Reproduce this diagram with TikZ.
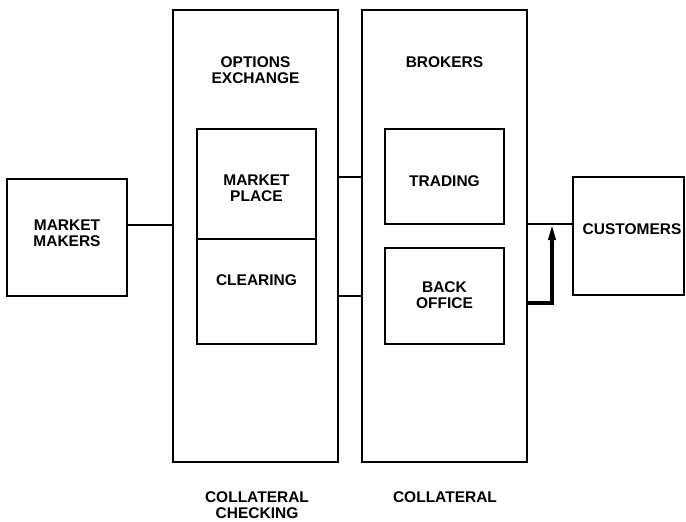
\documentclass[tikz,border=0pt]{standalone}
\usepackage{fontspec}
\setmainfont{Liberation Sans}
\usetikzlibrary{arrows.meta}
\begin{document}
\begin{tikzpicture}[x=1pt,y=1pt,
  box/.style={draw,line width=2pt,inner sep=0pt},
  lbl/.style={font=\bfseries\fontsize{15.5}{16}\selectfont,align=center,inner sep=0pt},
  conn/.style={line width=1.5pt},
  flow/.style={line width=3.5pt,-{Triangle[width=7pt,length=16pt]}}]
\useasboundingbox (0,0) rectangle (686,-522);
% outer boxes
\node[box,minimum width=120,minimum height=117] (mm) at (67,-237.5) {};
\node[box,minimum width=165,minimum height=452] (ox) at (255.5,-236) {};
\node[box,minimum width=165,minimum height=452] (br) at (444.5,-236) {};
\node[box,minimum width=111,minimum height=118] (cu) at (628.5,-236) {};
% inner boxes
\node[box,minimum width=119,minimum height=110] (mp) at (256.5,-184) {};
\node[box,minimum width=119,minimum height=105] (cl) at (256.5,-291.5) {};
\node[box,minimum width=119,minimum height=95] (tr) at (444.5,-176.5) {};
\node[box,minimum width=119,minimum height=96] (bo) at (444.5,-296) {};
% labels
\node[lbl] (tmm) at (67,-233) {MARKET\\MAKERS};
\node[lbl] (tox) at (255.5,-70) {OPTIONS\\EXCHANGE};
\node[lbl] (tbr) at (444.5,-62) {BROKERS};
\node[lbl] (tmp) at (256.5,-188) {MARKET\\PLACE};
\node[lbl] (tcl) at (256.5,-280) {CLEARING};
\node[lbl] (ttr) at (444.5,-181) {TRADING};
\node[lbl] (tbo) at (444.5,-295) {BACK\\OFFICE};
\node[lbl] (tcu) at (632,-229) {CUSTOMERS};
\node[lbl] (tcc) at (257,-505) {COLLATERAL\\CHECKING};
\node[lbl] (tco) at (445,-497) {COLLATERAL};
% connectors
\draw[conn] (mm.east |- 0,-225) -- (ox.west |- 0,-225);
\draw[conn] (ox.east |- 0,-177) -- (br.west |- 0,-177);
\draw[conn] (ox.east |- 0,-296) -- (br.west |- 0,-296);
\draw[conn] (br.east |- 0,-224) -- (cu.west |- 0,-224);
\coordinate (turn) at (552,-303);
\coordinate (tip) at (552,-224);
\draw[flow] (br.east |- turn) -- (turn) -- (tip);
\end{tikzpicture}
\end{document}
